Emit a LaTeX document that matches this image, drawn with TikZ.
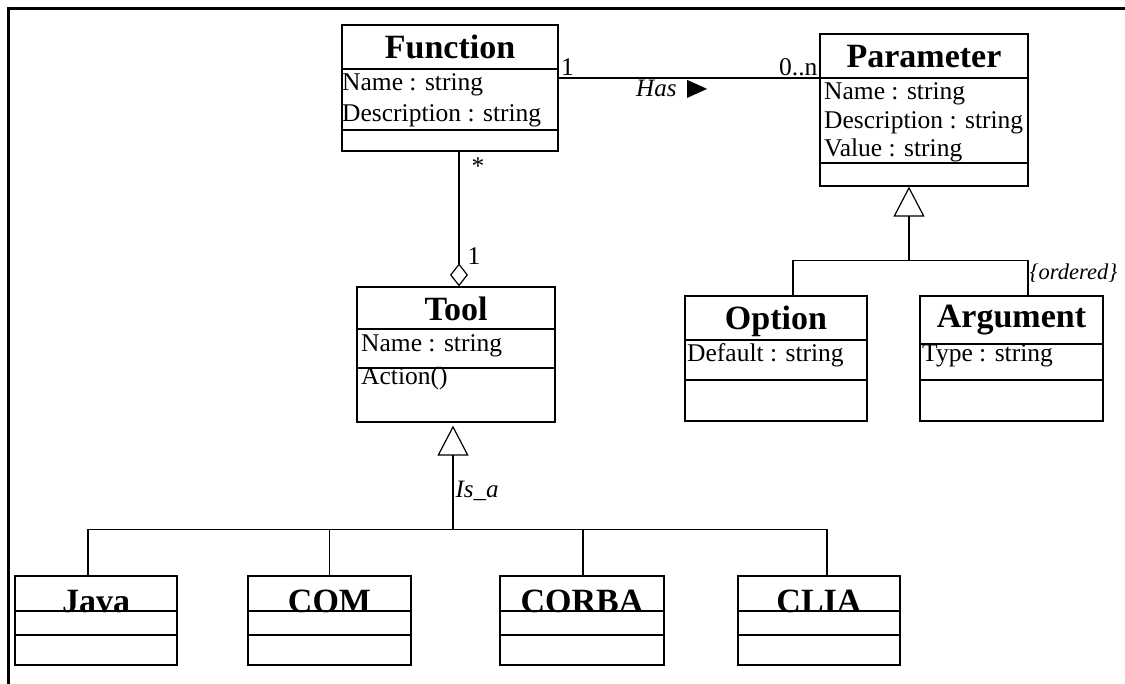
\documentclass[tikz,border=0pt]{standalone}
\usepackage{fontspec}
\setmainfont{Liberation Serif}
\usetikzlibrary{arrows.meta}

\tikzset{
  classbox/.style={draw, line width=1.2pt, inner sep=0pt},
  classtitle/.style={anchor=base, inner sep=0pt, font=\fontsize{34}{40}\selectfont\bfseries},
  attr/.style={anchor=base west, inner sep=0pt, font=\fontsize{25.5}{30}\selectfont},
  mult/.style={inner sep=2pt, font=\fontsize{25.5}{30}\selectfont},
  rolename/.style={inner sep=2pt, font=\fontsize{25}{30}\selectfont\itshape},
  constraint/.style={inner sep=0pt, font=\fontsize{22.5}{27}\selectfont\itshape},
  conn/.style={line width=1.2pt},
  inherit/.style={conn, -{Triangle[open, length=30pt, width=31pt]}},
  aggr/.style={conn, {Diamond[open, length=23pt, width=18pt]}-},
}

% id, title, left, top, right, bottom, 1st sep, 2nd sep, title baseline
\newcommand{\umlclass}[9]{%
  \node[classbox, minimum width={#5-#3}, minimum height={#6-#4}] (#1) at ({(#3+#5)/2},{(#4+#6)/2}) {};
  \node[classtitle] (#1-title) at ({(#3+#5)/2},#9) {#2};
  \draw[conn] (#3,#7) coordinate (#1-s1) -- (#5,#7);
  \draw[conn] (#3,#8) coordinate (#1-s2) -- (#5,#8);
}
% id, x, first baseline, step, lines
\newcommand{\umlattrs}[5]{%
  \foreach \txt [count=\i] in {#5}
    \node[attr] (#1-a\i) at (#2,{#3+#4*(\i-1)}) {\txt};
}

\begin{document}
\begin{tikzpicture}[x=1pt, y=-1pt]
\useasboundingbox (0,0) rectangle (1125,684);
\draw[line width=2.7pt] (1125,8.5) -| (8.5,684);

% classes
\umlclass{function}{Function}{342}{25}{558}{151}{69}{130}{59}
\umlattrs{function}{342}{91}{30.5}{Name : string, Description : string}
\umlclass{param}{Parameter}{820}{34}{1028}{186}{78}{163}{68}
\umlattrs{param}{824}{100}{28.5}{Name : string, Description : string, Value : string}
\umlclass{tool}{Tool}{357}{287}{555}{422}{329}{368}{321}
\umlattrs{tool}{361}{352}{33}{Name : string, Action()}
\umlclass{option}{Option}{685}{296}{867}{421}{340}{380}{330}
\umlattrs{option}{687}{362}{0}{Default : string}
\umlclass{argument}{Argument}{920}{296}{1103}{421}{344}{380}{328}
\umlattrs{argument}{922}{362}{0}{Type : string}
\umlclass{java}{Java}{15}{576}{177}{665}{611}{635}{612}
\umlclass{com}{COM}{248}{576}{411}{665}{611}{635}{612}
\umlclass{corba}{CORBA}{500}{576}{664}{665}{611}{635}{612}
\umlclass{clia}{CLIA}{738}{576}{900}{665}{611}{635}{612}

% Has
\draw[conn] (function.east |- param-s1) -- (param-s1)
  node[mult, pos=0, anchor=south west] (m-one) {1}
  node[mult, pos=1, anchor=south east] (m-many) {0..n}
  node[rolename, pos=0.374, below] (has) {Has};
\fill ([xshift=8pt,yshift=9pt]has.east) -- ([xshift=28pt]has.east)
  -- ([xshift=8pt,yshift=-9pt]has.east) -- cycle;

% aggregation
\coordinate (aggtop) at ([xshift=3pt]tool.north);
\draw[aggr] (aggtop) -- (aggtop |- function.south)
  node[mult, pos=1, anchor=north west, xshift=10pt, yshift=-4pt] (m-star) {*}
  node[mult, pos=0, anchor=base west, xshift=6pt, yshift=22pt] (m-tool) {1};

% parameter kinds
\coordinate (pgen) at ([xshift=-15pt]param.south);
\coordinate (pbar) at ([yshift=-74pt]pgen);
\draw[inherit] (pbar) -- (pgen);
\foreach \c/\dx in {option/17, argument/16.5}
  \draw[conn] ([xshift=\dx pt]\c.north) |- (pbar);
\node[constraint, anchor=base west, xshift=18pt, yshift=16pt] (ordered) at (argument.north) {\{ordered\}};

% tool kinds
\coordinate (tgen) at ([xshift=-3pt,yshift=-3pt]tool.south);
\coordinate (tbar) at ([yshift=-104pt]tgen);
\draw[inherit] (tbar) -- (tgen)
  node[rolename, pos=0.375, anchor=west] (isa) {Is\_a};
\foreach \c/\dx in {java/-8, com/0, corba/1, clia/8}
  \draw[conn] ([xshift=\dx pt]\c.north) |- (tbar);
\end{tikzpicture}
\end{document}
